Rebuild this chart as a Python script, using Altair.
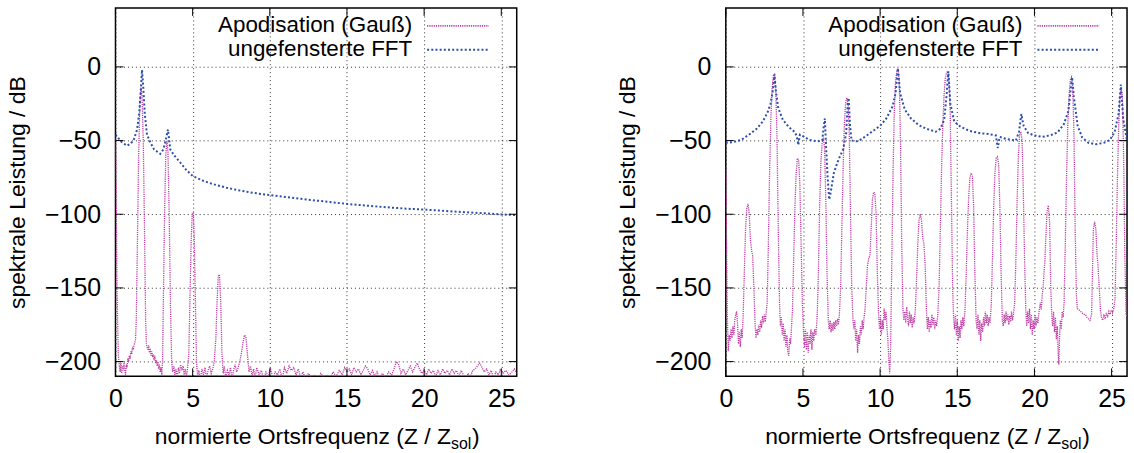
import altair as alt
import pandas as pd

FONT = "Liberation Sans"
SERIES = ["Apodisation (Gauß)", "ungefensterte FFT"]
COL_APO = "#c03ea6"
COL_FFT = "#2c4fae"
X_TICKS = [0, 5, 10, 15, 20, 25]
Y_TICKS = [-200, -150, -100, -50, 0]
X_DOMAIN = [0, 26]
Y_DOMAIN = [-210, 40]
X_TITLE_MAIN = "normierte Ortsfrequenz (Z / Z"
X_TITLE_SUB = "sol"
X_TITLE_END = ")"
Y_TITLE = "spektrale Leistung / dB"

# ---------------- left panel ----------------
L_FFT = [(0, -46), (0.4, -51), (0.75, -53.5), (1.0, -52), (1.2, -49), (1.4, -42.5), (1.55, -30),
         (1.65, -14), (1.72, -2), (1.8, -14), (1.9, -32), (2.04, -46), (2.25, -51), (2.5, -56),
         (2.9, -59), (3.1, -56), (3.25, -50), (3.4, -42.5), (3.55, -56), (3.8, -60), (4.2, -65),
         (4.6, -70), (5.0, -74), (5.6, -77), (6.3, -79.5), (7.2, -82), (8.1, -84), (9.0, -85.6),
         (10.0, -87), (11.0, -88.3), (12.0, -89.5), (13.0, -90.7), (14.0, -91.8), (15.0, -93),
         (16.0, -93.9), (17.0, -94.8), (18.0, -95.6), (19.0, -96.3), (20.0, -96.8), (21.0, -97.5),
         (22.0, -98.2), (23.0, -98.8), (24.0, -99.4), (25.0, -100.1), (26.0, -100.6)]

L_APO = [(0.0, -48), (0.05, -90), (0.1, -150), (0.18, -195), (0.25, -203), (0.3, -207), (0.35, -201),
         (0.4, -208), (0.45, -203), (0.5, -206), (0.55, -200), (0.6, -205), (0.65, -209), (0.7, -202),
         (0.75, -204), (0.8, -198), (0.85, -200), (0.9, -196), (0.95, -198), (1.0, -193), (1.05, -195),
         (1.1, -190), (1.15, -192), (1.2, -189), (1.25, -187), (1.3, -185), (1.35, -170), (1.42, -120),
         (1.5, -60), (1.58, -25), (1.65, -14), (1.72, -20), (1.8, -50), (1.88, -110), (1.95, -170),
         (2.0, -188), (2.05, -190), (2.1, -192), (2.15, -189), (2.2, -194), (2.25, -191), (2.3, -196),
         (2.35, -193), (2.4, -197), (2.45, -195), (2.5, -199), (2.55, -196), (2.6, -201), (2.65, -199),
         (2.7, -203), (2.75, -200), (2.8, -205), (2.85, -202), (2.9, -207), (2.95, -204), (3.0, -209),
         (3.05, -200), (3.1, -160), (3.18, -100), (3.26, -60), (3.33, -50), (3.4, -58), (3.48, -100),
         (3.56, -160), (3.64, -200), (3.7, -207), (3.78, -203), (3.85, -209), (3.92, -205), (4.0, -211),
         (4.08, -204), (4.15, -208), (4.22, -202), (4.3, -206), (4.38, -203), (4.45, -209), (4.52, -205),
         (4.6, -211), (4.68, -203), (4.75, -195), (4.82, -160), (4.9, -120), (4.97, -100), (5.04, -99),
         (5.1, -115), (5.18, -160), (5.25, -200), (5.32, -210), (5.4, -206), (5.5, -212), (5.6, -205),
         (5.7, -209), (5.8, -204), (5.9, -211), (6.0, -206), (6.1, -203), (6.2, -208), (6.3, -205),
         (6.4, -200), (6.5, -185), (6.58, -160), (6.66, -142), (6.74, -141), (6.82, -160), (6.9, -195),
         (6.98, -208), (7.05, -203), (7.15, -211), (7.25, -206), (7.35, -209), (7.45, -204), (7.55, -212),
         (7.65, -206), (7.75, -202), (7.85, -207), (7.95, -204), (8.05, -200), (8.15, -195), (8.25, -188),
         (8.35, -182), (8.45, -183), (8.55, -195), (8.65, -207), (8.75, -203), (8.85, -210), (8.95, -205),
         (9.05, -211), (9.15, -204), (9.3, -209), (9.45, -206), (9.6, -212), (9.75, -207), (9.9, -210),
         (10.05, -205), (10.2, -211), (10.35, -207), (10.5, -209), (10.65, -205), (10.8, -212),
         (10.95, -204), (11.1, -208), (11.25, -203), (11.4, -206), (11.55, -204), (11.7, -209),
         (11.85, -205), (12.0, -211), (12.15, -207), (12.3, -212), (12.5, -208), (12.7, -211),
         (12.9, -209), (13.1, -212), (13.3, -208), (13.5, -211), (13.7, -209), (13.9, -212),
         (14.1, -207), (14.3, -210), (14.5, -206), (14.7, -209), (14.85, -204), (15.0, -207),
         (15.15, -205), (15.3, -209), (15.45, -204), (15.6, -207), (15.75, -205), (15.9, -209),
         (16.05, -206), (16.2, -203), (16.35, -205), (16.5, -209), (16.65, -206), (16.8, -210),
         (16.95, -207), (17.1, -211), (17.3, -208), (17.5, -211), (17.7, -207), (17.9, -209),
         (18.05, -205), (18.2, -200), (18.35, -202), (18.5, -208), (18.65, -205), (18.8, -209),
         (18.95, -206), (19.1, -203), (19.25, -207), (19.4, -204), (19.55, -201), (19.7, -205),
         (19.85, -208), (20.0, -206), (20.15, -209), (20.3, -205), (20.45, -208), (20.6, -206),
         (20.75, -210), (20.9, -206), (21.05, -209), (21.2, -205), (21.35, -208), (21.5, -206),
         (21.65, -209), (21.8, -205), (21.95, -208), (22.1, -206), (22.25, -210), (22.4, -206),
         (22.55, -209), (22.7, -212), (22.85, -208), (23.0, -210), (23.15, -206), (23.3, -205),
         (23.45, -203), (23.6, -201), (23.75, -204), (23.9, -207), (24.05, -205), (24.2, -209),
         (24.35, -206), (24.5, -211), (24.65, -207), (24.8, -209), (24.95, -205), (25.1, -208),
         (25.3, -206), (25.5, -209), (25.7, -207), (25.85, -205), (26.0, -208)]

# ---------------- right panel ----------------
R_FFT = [(0.0, -51.5), (0.5, -51), (1.0, -49.5), (1.5, -46), (2.0, -42), (2.4, -37), (2.7, -31),
         (2.9, -25), (3.05, -16), (3.15, -5), (3.25, -17), (3.4, -28), (3.7, -36), (4.1, -41),
         (4.45, -44), (4.6, -47), (4.7, -53), (4.8, -46), (5.0, -47), (5.4, -49.5), (5.9, -50.5),
         (6.25, -50), (6.35, -40), (6.42, -35), (6.5, -55), (6.6, -75), (6.7, -90), (6.8, -85),
         (7.0, -72), (7.3, -63), (7.6, -56), (7.8, -45), (7.9, -25), (7.96, -21), (8.05, -40),
         (8.15, -50), (8.5, -50.5), (8.8, -49), (9.2, -46), (9.6, -43), (10.0, -40), (10.4, -35),
         (10.8, -27), (11.0, -18), (11.15, -1), (11.3, -18), (11.6, -29), (12.0, -35), (12.5, -39.5),
         (13.0, -42), (13.6, -44), (13.9, -42), (14.15, -36), (14.3, -20), (14.42, -3), (14.55, -25),
         (14.8, -37), (15.2, -40.5), (15.8, -43.5), (16.5, -45), (17.0, -45.5), (17.5, -46.5),
         (17.62, -55), (17.75, -47.5), (18.2, -49), (18.8, -50), (19.0, -44), (19.15, -32),
         (19.3, -40), (19.6, -45), (20.0, -46.5), (20.5, -47.5), (21.0, -46.5), (21.5, -44.5),
         (21.9, -39), (22.2, -30), (22.35, -15), (22.44, -7), (22.55, -20), (22.8, -40), (23.1, -48),
         (23.5, -51.5), (24.0, -52.5), (24.5, -51.5), (24.9, -49.5), (25.2, -44), (25.45, -32),
         (25.6, -12), (25.75, -35), (26.0, -50)]

R_APO = [(0.0, -68), (0.05, -120), (0.1, -170), (0.16, -193), (0.22, -182), (0.28, -186), (0.34, -178),
         (0.4, -184), (0.46, -176), (0.52, -182), (0.58, -172), (0.64, -168), (0.7, -166), (0.76, -174),
         (0.82, -188), (0.88, -180), (0.94, -190), (1.0, -178), (1.06, -184),
         (1.12, -170), (1.2, -140), (1.28, -110), (1.36, -96), (1.44, -93), (1.52, -100), (1.6, -118),
         (1.68, -125), (1.74, -128), (1.82, -150), (1.9, -175),
         (1.96, -184), (2.02, -178), (2.08, -182), (2.14, -175), (2.2, -180), (2.26, -172), (2.32, -177),
         (2.38, -169), (2.44, -174), (2.5, -168), (2.56, -173), (2.62, -166), (2.68, -160),
         (2.76, -120), (2.84, -70), (2.92, -35), (3.0, -15), (3.08, -6), (3.16, -5), (3.24, -15),
         (3.32, -50), (3.4, -110), (3.48, -160),
         (3.54, -176), (3.6, -170), (3.66, -182), (3.72, -174), (3.78, -186), (3.84, -178), (3.9, -190),
         (3.96, -182), (4.02, -194), (4.08, -196), (4.14, -184), (4.2, -188), (4.26, -176), (4.32, -165),
         (4.4, -130), (4.48, -95), (4.56, -72), (4.64, -62), (4.72, -63), (4.8, -80), (4.88, -120),
         (4.96, -160),
         (5.04, -180), (5.1, -190), (5.16, -178), (5.22, -192), (5.28, -180), (5.34, -194), (5.4, -182),
         (5.46, -188), (5.52, -178), (5.58, -192), (5.64, -180), (5.7, -186), (5.76, -178), (5.84, -182),
         (5.92, -170),
         (6.0, -140), (6.08, -95), (6.16, -65), (6.24, -52), (6.32, -48), (6.4, -55), (6.48, -90),
         (6.56, -140), (6.64, -172),
         (6.7, -178), (6.76, -172), (6.82, -180), (6.88, -174), (6.94, -179), (7.0, -173), (7.06, -178),
         (7.12, -172), (7.18, -176), (7.24, -171), (7.3, -175), (7.36, -168), (7.44, -150),
         (7.52, -110), (7.6, -70), (7.68, -40), (7.76, -25), (7.84, -21), (7.92, -24), (8.0, -45),
         (8.08, -100), (8.16, -150), (8.24, -172),
         (8.3, -178), (8.36, -172), (8.42, -186), (8.48, -178), (8.54, -194), (8.6, -182), (8.66, -188),
         (8.72, -176), (8.78, -182), (8.84, -172), (8.9, -178), (8.96, -170), (9.02, -165),
         (9.1, -150), (9.18, -135), (9.26, -130), (9.34, -128), (9.42, -110), (9.5, -90), (9.58, -85),
         (9.66, -86), (9.74, -100), (9.82, -140), (9.9, -168),
         (9.96, -178), (10.02, -170), (10.08, -182), (10.14, -172), (10.2, -178), (10.26, -164),
         (10.32, -172), (10.38, -166), (10.44, -176), (10.5, -185), (10.56, -198), (10.62, -208),
         (10.68, -190),
         (10.76, -130), (10.84, -70), (10.92, -30), (11.0, -10), (11.08, -3), (11.16, -1), (11.24, -10),
         (11.32, -50), (11.4, -120), (11.48, -165),
         (11.54, -172), (11.6, -166), (11.66, -174), (11.72, -163), (11.78, -170), (11.84, -176),
         (11.9, -166), (11.96, -174), (12.02, -168), (12.08, -177), (12.14, -170), (12.2, -174),
         (12.28, -165), (12.36, -145),
         (12.44, -120), (12.52, -104), (12.6, -100), (12.68, -104), (12.76, -116), (12.84, -120),
         (12.92, -135), (13.0, -165),
         (13.06, -178), (13.12, -170), (13.18, -180), (13.24, -172), (13.3, -177), (13.36, -168),
         (13.42, -175), (13.48, -170), (13.54, -178), (13.6, -172), (13.66, -176), (13.74, -168),
         (13.82, -150),
         (13.9, -110), (13.98, -70), (14.06, -40), (14.14, -20), (14.22, -8), (14.3, -4), (14.38, -3),
         (14.46, -8), (14.54, -30), (14.62, -90), (14.7, -150),
         (14.76, -170), (14.82, -178), (14.88, -168), (14.94, -182), (15.0, -172), (15.06, -186),
         (15.12, -176), (15.18, -184), (15.24, -172), (15.3, -178), (15.36, -170), (15.42, -176),
         (15.5, -165),
         (15.58, -140), (15.66, -110), (15.74, -88), (15.82, -75), (15.9, -72), (15.98, -74),
         (16.06, -95), (16.14, -140), (16.22, -172),
         (16.28, -178), (16.34, -168), (16.4, -182), (16.46, -172), (16.52, -186), (16.58, -174),
         (16.64, -180), (16.7, -170), (16.76, -176), (16.82, -166), (16.88, -174), (16.94, -168),
         (17.0, -176), (17.06, -170), (17.12, -174), (17.2, -162),
         (17.28, -130), (17.36, -95), (17.44, -72), (17.52, -62), (17.6, -61), (17.68, -66),
         (17.76, -95), (17.84, -140), (17.92, -172),
         (17.98, -176), (18.04, -168), (18.1, -174), (18.16, -166), (18.22, -172), (18.28, -168),
         (18.34, -175), (18.4, -169), (18.46, -173), (18.52, -166), (18.58, -172), (18.64, -168),
         (18.72, -160),
         (18.8, -130), (18.88, -90), (18.96, -60), (19.04, -46), (19.12, -44), (19.2, -50),
         (19.28, -85), (19.36, -130), (19.44, -165),
         (19.5, -176), (19.56, -166), (19.62, -174), (19.68, -164), (19.74, -178), (19.8, -168),
         (19.86, -182), (19.92, -172), (19.98, -178), (20.04, -168), (20.1, -176), (20.16, -170),
         (20.22, -174), (20.3, -166), (20.38, -160), (20.44, -165),
         (20.5, -155), (20.56, -150), (20.62, -140), (20.68, -132), (20.74, -115), (20.82, -98),
         (20.9, -94), (20.98, -105), (21.06, -150), (21.12, -168),
         (21.18, -176), (21.24, -166), (21.3, -180), (21.36, -170), (21.42, -185), (21.48, -176),
         (21.54, -195), (21.58, -202), (21.62, -185), (21.68, -172), (21.74, -178), (21.8, -166),
         (21.86, -170), (21.92, -160),
         (22.0, -120), (22.08, -75), (22.16, -40), (22.24, -20), (22.32, -9), (22.4, -7), (22.48, -14),
         (22.56, -45), (22.64, -110), (22.72, -155),
         (22.78, -164), (22.9, -165), (23.0, -166), (23.1, -167), (23.2, -168), (23.3, -168),
         (23.4, -170), (23.5, -171), (23.6, -172), (23.7, -168),
         (23.76, -140), (23.82, -110), (23.9, -105), (23.98, -110), (24.06, -128), (24.12, -135),
         (24.2, -150), (24.28, -165),
         (24.34, -170), (24.42, -172), (24.5, -168), (24.58, -171), (24.66, -167), (24.74, -170),
         (24.82, -166), (24.9, -168), (24.98, -165), (25.06, -167), (25.14, -164), (25.22, -158),
         (25.3, -120), (25.38, -75), (25.46, -40), (25.54, -20), (25.62, -15), (25.7, -20),
         (25.78, -60), (25.86, -130), (25.94, -168), (26.0, -170)]

W, H = 403, 370
TICK = 8


def one_row(v):
    return pd.DataFrame({"t": [v]})


def panel(apo, fft):
    xs = alt.Scale(domain=X_DOMAIN, nice=False, zero=False)
    ys = alt.Scale(domain=Y_DOMAIN, nice=False, zero=False)
    common = dict(grid=True, ticks=False, tickSize=0, domain=False,
                  labelFont=FONT, labelFontSize=25, labelColor="black",
                  gridColor="#333333", gridDash=[1, 3], gridWidth=1, gridOpacity=1)
    xax = alt.Axis(values=X_TICKS, labelPadding=10, title=None, labelFlush=False, **common)
    yax = alt.Axis(values=Y_TICKS, labelPadding=15, title=Y_TITLE, titleFont=FONT,
                   titleFontSize=23, titleFontWeight="normal", titleColor="black",
                   titlePadding=15, **common)

    def X(f):
        return alt.X(f, scale=xs, axis=xax)

    def Y(f):
        return alt.Y(f, scale=ys, axis=yax)

    apo_df = pd.DataFrame(apo, columns=["x", "y"])
    fft_df = pd.DataFrame(fft, columns=["x", "y"])

    apo_line = alt.Chart(apo_df).mark_line(
        clip=True, color=COL_APO, strokeWidth=1.3, strokeDash=[1.2, 1]
    ).encode(x=X("x:Q"), y=Y("y:Q"))

    fft_line = alt.Chart(fft_df).mark_line(
        clip=True, color=COL_FFT, strokeWidth=2, strokeDash=[2, 2.2]
    ).encode(x=X("x:Q"), y=Y("y:Q"))

    yt = pd.DataFrame({"y": Y_TICKS})
    xt = pd.DataFrame({"x": X_TICKS})
    tick_style = dict(color="black", strokeWidth=1)
    yl = alt.Chart(yt).mark_rule(**tick_style).encode(
        y=Y("y:Q"), x=alt.value(0), x2=alt.value(TICK))
    yr = alt.Chart(yt).mark_rule(**tick_style).encode(
        y=Y("y:Q"), x=alt.value(W - TICK), x2=alt.value(W))
    xb = alt.Chart(xt).mark_rule(**tick_style).encode(
        x=X("x:Q"), y=alt.value(H - TICK), y2=alt.value(H))
    xtp = alt.Chart(xt).mark_rule(**tick_style).encode(
        x=X("x:Q"), y=alt.value(0), y2=alt.value(TICK))

    txt = dict(font=FONT, color="black", baseline="middle", align="right", fontSize=22.5)
    leg1 = alt.Chart(one_row(SERIES[0])).mark_text(**txt).encode(
        x=alt.value(298), y=alt.value(17), text="t:N")
    leg2 = alt.Chart(one_row(SERIES[1])).mark_text(**txt).encode(
        x=alt.value(298), y=alt.value(41), text="t:N")
    s1 = alt.Chart(one_row(0)).mark_rule(color=COL_APO, strokeWidth=1.6, strokeDash=[1.2, 1]).encode(
        x=alt.value(313), x2=alt.value(375), y=alt.value(18))
    s2 = alt.Chart(one_row(0)).mark_rule(color=COL_FFT, strokeWidth=2, strokeDash=[2, 2.2]).encode(
        x=alt.value(313), x2=alt.value(375), y=alt.value(42))

    t_main = alt.Chart(one_row(X_TITLE_MAIN)).mark_text(
        font=FONT, color="black", fontSize=23, align="right", baseline="alphabetic").encode(
        x=alt.value(337), y=alt.value(438), text="t:N")
    t_sub = alt.Chart(one_row(X_TITLE_SUB)).mark_text(
        font=FONT, color="black", fontSize=16, align="left", baseline="alphabetic").encode(
        x=alt.value(337), y=alt.value(443), text="t:N")
    t_end = alt.Chart(one_row(X_TITLE_END)).mark_text(
        font=FONT, color="black", fontSize=23, align="left", baseline="alphabetic").encode(
        x=alt.value(358), y=alt.value(438), text="t:N")

    return alt.layer(apo_line, fft_line, yl, yr, xb, xtp, leg1, leg2, s1, s2,
                     t_main, t_sub, t_end).properties(width=W, height=H)


left = panel(L_APO, L_FFT)
right = panel(R_APO, R_FFT)

chart = alt.hconcat(left, right, spacing=97).properties(
    padding={"left": 5, "top": 5, "right": 5, "bottom": 0},
    background="white",
).configure_view(stroke="black", strokeWidth=1.5)

chart.save("out.html", embed_options={"renderer": "svg", "actions": False})
